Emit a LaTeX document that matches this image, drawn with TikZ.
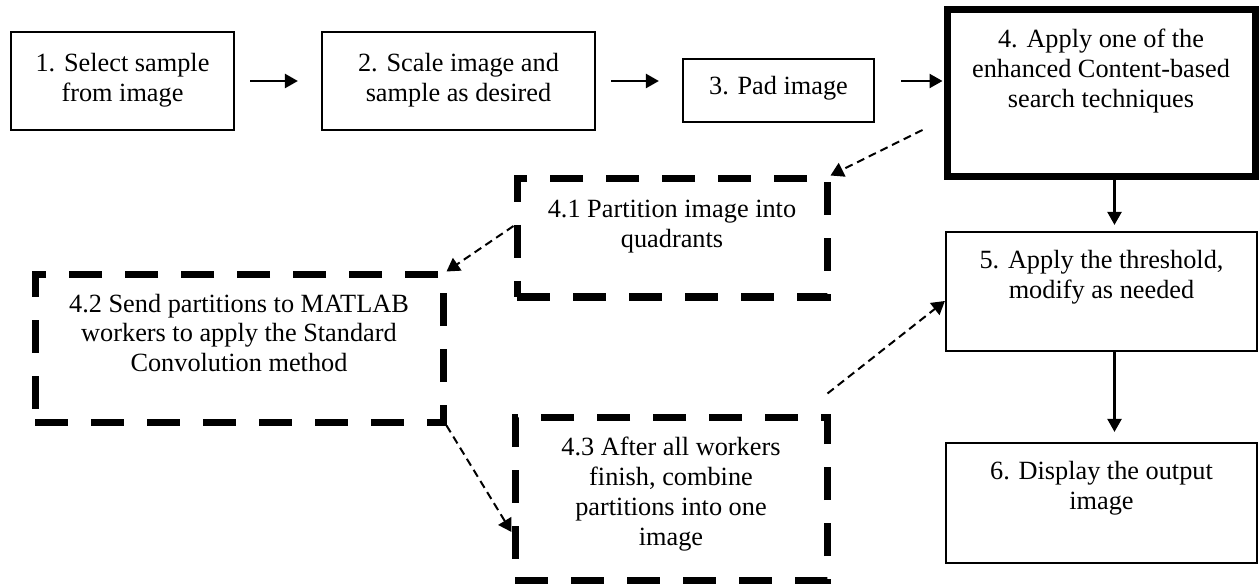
\documentclass[tikz,border=0pt]{standalone}
\usepackage{fontspec}
\setmainfont{Liberation Serif}
\usetikzlibrary{arrows.meta,calc}
\newcommand\bxt[4]{\parbox[c][#2][t]{#1}{\centering\vspace*{#3}\strut #4\par}}
\begin{document}
\begin{tikzpicture}[x=1pt,y=-1pt,
  txt/.style={inner sep=0pt, font=\fontsize{26.3pt}{30pt}\selectfont},
  thinbox/.style={txt, draw, line width=2.2pt},
  thickbox/.style={txt, draw, line width=7pt},
  dashbox/.style={txt, draw, line width=7pt, dash pattern=on 33pt off 23pt},
  arr/.style={line width=2.4pt, -{Triangle[length=13pt,width=14pt]}},
  darr/.style={line width=2pt, dash pattern=on 8pt off 5pt, -{Triangle[length=13pt,width=15pt]}}
]
\useasboundingbox (0,0) rectangle (1259,588);

\node[thinbox] (b1) at (122.5,81) {\bxt{223pt}{98pt}{19pt}{1. Select sample\\from image}};
\node[thinbox] (b2) at (458.5,81) {\bxt{273pt}{98pt}{19pt}{2. Scale image and\\sample as desired}};
\node[thinbox] (b3) at (778.5,90.5) {\bxt{191pt}{63pt}{15pt}{3. Pad image}};
\node[thickbox] (b4) at (1101,93.5) {\bxt{308pt}{167pt}{17pt}{4. Apply one of the\\enhanced Content-based\\search techniques}};
\node[dashbox] (q1) at (672,238) {\bxt{310pt}{118pt}{18pt}{4.1 Partition image into\\quadrants}};
\node[dashbox] (q2) at (239,348.5) {\bxt{408pt}{147pt}{16pt}{4.2 Send partitions to MATLAB\\workers to apply the Standard\\Convolution method}};
\node[dashbox] (q3) at (671,498.5) {\bxt{312pt}{163pt}{17.5pt}{4.3 After all workers\\finish, combine\\partitions into one\\image}};
\node[thinbox] (b5) at (1101.5,291.5) {\bxt{311pt}{119pt}{15pt}{5. Apply the threshold,\\modify as needed}};
\node[thinbox] (b6) at (1101.5,503) {\bxt{311pt}{120pt}{15.5pt}{6. Display the output\\image}};

\draw[arr, shorten <=15pt, shorten >=23pt] (b1.east) -- (b2.west);
\draw[arr, shorten <=15pt, shorten >=23pt] (b2.east) -- (b2.east -| b3.west);
\draw[arr, shorten <=26pt, shorten >=1pt] (b3.east |- b2.east) -- (b2.east -| b4.west);

\coordinate (vx) at ([xshift=13pt]b5.north);
\coordinate (vy) at ([xshift=13pt]b6.north);
\draw[arr, shorten >=6pt] (vx |- b4.south) -- (vx);
\draw[arr, shorten >=10pt] (vy |- b5.south) -- (vy);

\draw[darr] ([shift={(-21pt,-36.5pt)}]b4.west) -- (q1.north east);
\draw[darr] ([yshift=12pt]q1.west) -- (q2.north east);
\draw[darr] (q2.south east) -- ([yshift=-33.5pt]q3.west);
\draw[darr] ([shift={(-3pt,20pt)}]q3.north east) -- ([yshift=-9.5pt]b5.west);
\end{tikzpicture}
\end{document}
